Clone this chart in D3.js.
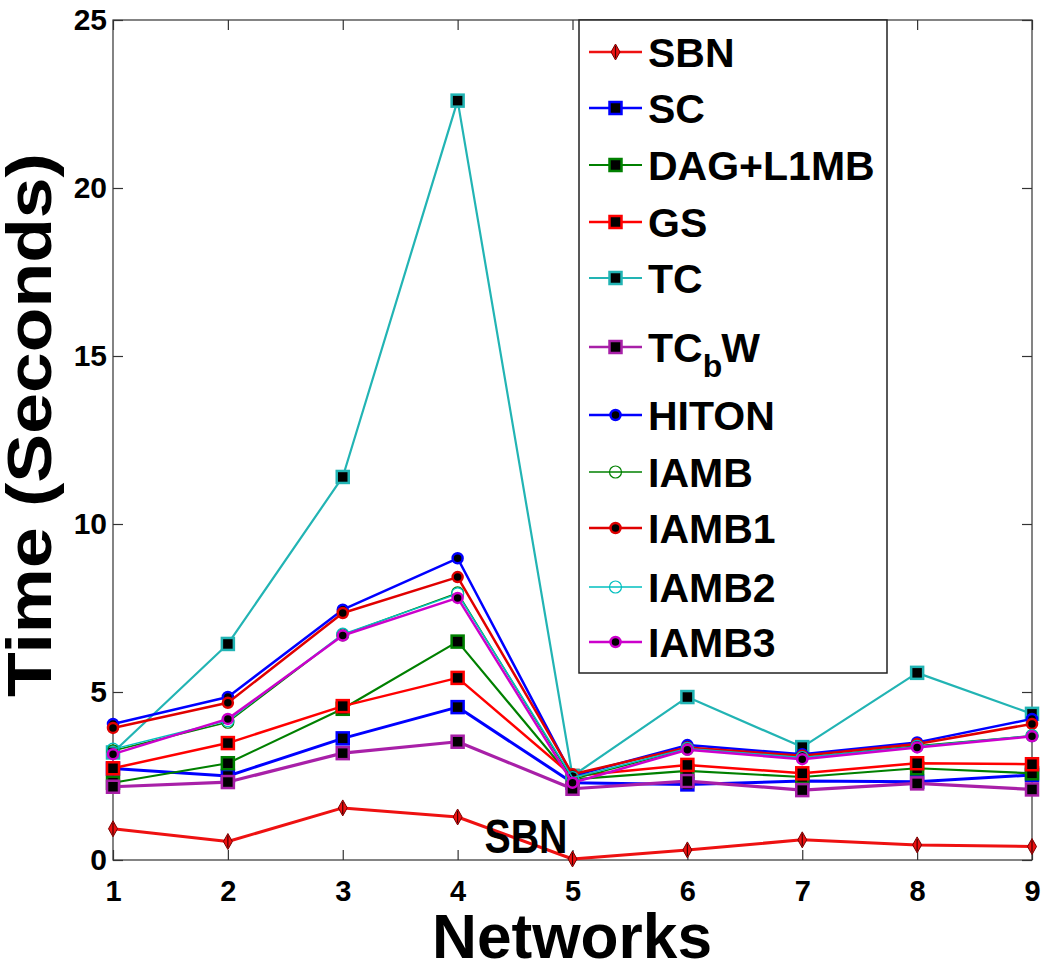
<!DOCTYPE html>
<html>
<head>
<meta charset="utf-8">
<script src="https://cdn.jsdelivr.net/npm/d3@7/dist/d3.min.js"></script>
<style>
  html, body { margin: 0; padding: 0; background: #fff; }
  svg { display: block; }
  text { font-family: "Liberation Sans", Arial, sans-serif; font-weight: bold; fill: #000; }
</style>
</head>
<body>
<svg id="chart" width="1050" height="965"></svg>
<script>
// ---------------- data ----------------
const networks = [1, 2, 3, 4, 5, 6, 7, 8, 9];
const xTicks = [1, 2, 3, 4, 5, 6, 7, 8, 9];
const yTicks = [0, 5, 10, 15, 20, 25];
const seriesNames = ["SBN", "SC", "DAG+L1MB", "GS", "TC", "TCbW", "HITON", "IAMB", "IAMB1", "IAMB2", "IAMB3"];

const SBN    = [0.93, 0.55, 1.55, 1.28, 0.03, 0.30, 0.60, 0.45, 0.40];
const SC     = [2.72, 2.50, 3.62, 4.55, 2.30, 2.25, 2.35, 2.33, 2.53];
const DAG    = [2.30, 2.88, 4.50, 6.50, 2.40, 2.65, 2.47, 2.73, 2.58];
const GS     = [2.73, 3.48, 4.58, 5.42, 2.50, 2.83, 2.58, 2.88, 2.85];
const TC     = [3.20, 6.43, 11.40, 22.60, 2.50, 4.85, 3.36, 5.57, 4.35];
const TCbW   = [2.18, 2.32, 3.18, 3.52, 2.12, 2.35, 2.08, 2.28, 2.10];
const HITON  = [4.05, 4.85, 7.45, 8.98, 2.50, 3.42, 3.15, 3.50, 4.20];
const IAMB   = [3.25, 4.10, 6.70, 7.95, 2.40, 3.30, 3.05, 3.40, 3.70];
const IAMB1  = [3.93, 4.68, 7.35, 8.42, 2.55, 3.35, 3.10, 3.45, 4.05];
const IAMB2  = [3.30, 4.15, 6.72, 7.92, 2.45, 3.32, 3.05, 3.38, 3.70];
const IAMB3  = [3.15, 4.20, 6.68, 7.80, 2.30, 3.28, 3.00, 3.35, 3.68];

const seriesValues = [SBN, SC, DAG, GS, TC, TCbW, HITON, IAMB, IAMB1, IAMB2, IAMB3];

// ---------------- styles ----------------
const styles = [
  { color: "#ee1111", marker: "diamond", lw: 3.0 },
  { color: "#0000ff", marker: "square", lw: 3.0 },
  { color: "#008000", marker: "square", lw: 2.2 },
  { color: "#ff0000", marker: "square", lw: 2.5 },
  { color: "#22b4b4", marker: "square", lw: 2.2 },
  { color: "#a820a8", marker: "square", lw: 3.2 },
  { color: "#0000ff", marker: "dot", lw: 2.5 },
  { color: "#008000", marker: "open", lw: 1.5 },
  { color: "#e00000", marker: "dot", lw: 2.5 },
  { color: "#00bfbf", marker: "open", lw: 1.5 },
  { color: "#cc00cc", marker: "dot", lw: 2.5 }
];

const svg = d3.select("#chart");
const M = { left: 113, right: 1032, top: 20, bottom: 860 };

const x = d3.scaleLinear().domain([1, 9]).range([M.left, M.right]);
const y = d3.scaleLinear().domain([0, 25]).range([M.bottom, M.top]);

// ---------------- axes ----------------
const axisColor = "#333";
svg.append("rect")
  .attr("x", M.left).attr("y", M.top)
  .attr("width", M.right - M.left).attr("height", M.bottom - M.top)
  .attr("fill", "none").attr("stroke", axisColor).attr("stroke-width", 1.2);

const gx = svg.append("g").attr("transform", `translate(0,${M.bottom})`)
  .call(d3.axisBottom(x).tickValues(xTicks).tickSizeInner(-10).tickSizeOuter(0).tickPadding(20));
const gxTop = svg.append("g").attr("transform", `translate(0,${M.top})`)
  .call(d3.axisTop(x).tickValues(xTicks).tickSizeInner(-10).tickSizeOuter(0).tickFormat(""));
const gy = svg.append("g").attr("transform", `translate(${M.left},0)`)
  .call(d3.axisLeft(y).tickValues(yTicks).tickSizeInner(-10).tickSizeOuter(0).tickPadding(6));
const gyR = svg.append("g").attr("transform", `translate(${M.right},0)`)
  .call(d3.axisRight(y).tickValues(yTicks).tickSizeInner(-10).tickSizeOuter(0).tickFormat(""));

[gx, gxTop, gy, gyR].forEach(g => {
  g.select(".domain").remove();
  g.selectAll(".tick line").attr("stroke", axisColor).attr("stroke-width", 1.2);
});
gx.selectAll(".tick text")
  .style("font-size", "29px").style("font-family", "Liberation Sans, Arial, sans-serif")
  .style("font-weight", "bold").attr("fill", "#000");
gy.selectAll(".tick text")
  .style("font-size", "30px").style("font-family", "Liberation Sans, Arial, sans-serif")
  .style("font-weight", "bold").attr("fill", "#000");

// axis titles
svg.append("text")
  .attr("x", 572).attr("y", 958)
  .attr("text-anchor", "middle")
  .attr("textLength", 280).attr("lengthAdjust", "spacingAndGlyphs")
  .style("font-size", "63px")
  .text("Networks");

svg.append("text")
  .attr("transform", "translate(51,425) rotate(-90)")
  .attr("text-anchor", "middle")
  .attr("textLength", 544).attr("lengthAdjust", "spacingAndGlyphs")
  .style("font-size", "63px")
  .text("Time (Seconds)");

// ---------------- markers ----------------
function drawMarker(g, kind, color, cx, cy) {
  if (kind === "square") {
    g.append("rect").attr("x", cx - 6).attr("y", cy - 6).attr("width", 12).attr("height", 12)
      .attr("fill", "#000").attr("stroke", color).attr("stroke-width", 2.5);
  } else if (kind === "dot") {
    g.append("circle").attr("cx", cx).attr("cy", cy).attr("r", 5)
      .attr("fill", "#000").attr("stroke", color).attr("stroke-width", 2.5);
  } else if (kind === "open") {
    g.append("circle").attr("cx", cx).attr("cy", cy).attr("r", 6)
      .attr("fill", "none").attr("stroke", color).attr("stroke-width", 1.2);
  } else if (kind === "diamond") {
    g.append("path")
      .attr("d", `M${cx},${cy - 8} L${cx + 4.5},${cy} L${cx},${cy + 8} L${cx - 4.5},${cy} Z`)
      .attr("fill", color).attr("stroke", "#700").attr("stroke-width", 1);
    g.append("line").attr("x1", cx).attr("x2", cx).attr("y1", cy - 6).attr("y2", cy + 6)
      .attr("stroke", "#400").attr("stroke-width", 1.2);
  }
}

// ---------------- lines ----------------
const line = d3.line().x((d, i) => x(networks[i])).y(d => y(d));
seriesValues.forEach((vals, si) => {
  const st = styles[si];
  const g = svg.append("g");
  g.append("path").datum(vals).attr("d", line)
    .attr("fill", "none").attr("stroke", st.color).attr("stroke-width", st.lw)
    .attr("stroke-linejoin", "round");
  vals.forEach((v, i) => drawMarker(g, st.marker, st.color, x(networks[i]), y(v)));
});

// SBN annotation
svg.append("text")
  .attr("x", 526).attr("y", 853)
  .attr("text-anchor", "middle")
  .attr("textLength", 83).attr("lengthAdjust", "spacingAndGlyphs")
  .style("font-size", "48px")
  .text("SBN");

// ---------------- legend ----------------
const L = { x: 579, y: 20, w: 308, h: 653 };
const lg = svg.append("g");
lg.append("rect").attr("x", L.x).attr("y", L.y).attr("width", L.w).attr("height", L.h)
  .attr("fill", "#fff").attr("stroke", "#222").attr("stroke-width", 1.5);

const legendY = [52, 108, 165, 222, 278, 347, 415, 472, 528, 587, 642];
seriesNames.forEach((name, i) => {
  const st = styles[i];
  const cy = legendY[i];
  lg.append("line").attr("x1", 589).attr("x2", 642).attr("y1", cy).attr("y2", cy)
    .attr("stroke", st.color).attr("stroke-width", Math.min(st.lw, 2.5));
  drawMarker(lg, st.marker, st.color, 615.5, cy);
  const t = lg.append("text").attr("x", 648).attr("y", cy + 15).style("font-size", "41px");
  if (name === "TCbW") {
    t.append("tspan").text("TC");
    t.append("tspan").attr("dy", 15).style("font-size", "32px").text("b");
    t.append("tspan").attr("dy", -15).attr("dx", -1).text("W");
  } else {
    t.text(name);
  }
});
</script>
</body>
</html>
